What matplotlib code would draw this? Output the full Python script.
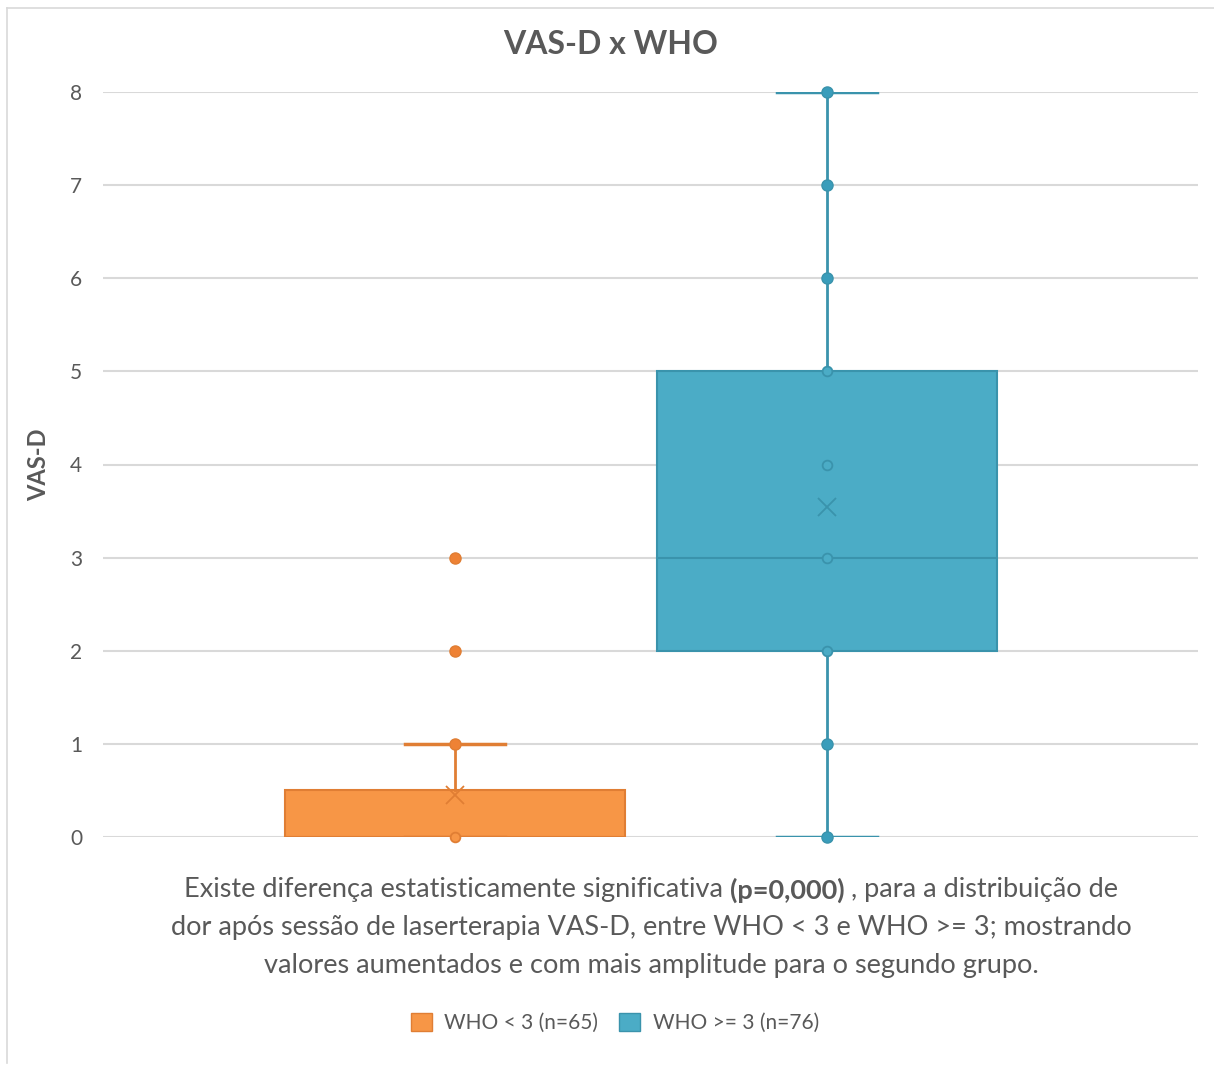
import matplotlib.pyplot as plt
from matplotlib.patches import Rectangle
from matplotlib.lines import Line2D

plt.rcParams['font.family'] = ['Lato', 'DejaVu Sans']

# data
labels = ['WHO < 3 (n=65)', 'WHO >= 3 (n=76)']
q1 = [0, 2]
q3 = [0.5, 5]
medians = [0, 3]
means = [0.45, 3.54]
whis_lo = [0, 0]
whis_hi = [1, 8]
points = [[0, 1, 2, 3], [0, 1, 2, 3, 4, 5, 6, 7, 8]]

fills = ['#F79646', '#4BACC6']
edges = ['#E07E34', '#3A93AC']
dots = ['#EE8235', '#3A9DBB']
gray = '#595959'

W, H = 1214, 1065
fig = plt.figure(figsize=(W / 100, H / 100), dpi=100)
ax = fig.add_axes([103 / W, 1 - 837 / H, 1095 / W, 745 / H])

positions = [1, 2]
for i in range(2):
  st = {'label': labels[i], 'q1': q1[i], 'q3': q3[i], 'med': medians[i],
        'mean': means[i], 'whislo': whis_lo[i], 'whishi': whis_hi[i], 'fliers': []}
  ax.bxp([st], positions=[positions[i]], widths=0.912, patch_artist=True,
         showmeans=True, showfliers=False,
         boxprops=dict(facecolor=fills[i], edgecolor=edges[i], linewidth=1.5),
         medianprops=dict(color=edges[i], linewidth=1.5),
         whiskerprops=dict(color=edges[i], linewidth=2),
         capprops=dict(color=edges[i], linewidth=2.5),
         capwidths=0.27,
         meanprops=dict(marker='x', markersize=13, markeredgecolor=edges[i],
                        markeredgewidth=1.3),
         zorder=3)
  for v in points[i]:
    if q1[i] <= v <= q3[i]:
      ax.plot(positions[i], v, 'o', ms=7, mfc=fills[i], mec=edges[i], mew=1.3,
              zorder=5, clip_on=False)
    else:
      ax.plot(positions[i], v, 'o', ms=8, mfc=dots[i], mec=edges[i], mew=1,
              zorder=5, clip_on=False)

ax.set_xlim(0.054, 2.997)
ax.set_ylim(0, 8)
ax.set_yticks(range(0, 9))
ax.set_xticks([])
ax.grid(axis='y', color='#D9D9D9', linewidth=1.5, zorder=0)
ax.set_axisbelow(True)
for s in ax.spines.values():
  s.set_visible(False)
ax.tick_params(axis='y', length=0, labelsize=15, labelcolor=gray, pad=15)
ax.set_ylabel('VAS-D', fontsize=17, fontweight='bold', color=gray, labelpad=14)

fig.text(611 / W, 1 - 45 / H, 'VAS-D x WHO', ha='center', va='center',
         fontsize=23, fontweight='bold', color=gray)

# caption, first line has a bold part
cap_size = 19.5
renderer = fig.canvas.get_renderer()
parts = [('Existe diferença estatisticamente significativa ', 'normal'),
         ('(p=0,000)', 'bold'),
         (' , para a distribuição de', 'normal')]
txts = [fig.text(0, 1 - 890 / H, p, fontsize=cap_size, fontweight=w, color=gray,
                 ha='left', va='center') for p, w in parts]
widths = [t.get_window_extent(renderer).width for t in txts]
x = 651 - sum(widths) / 2
for t, w in zip(txts, widths):
  t.set_x(x / W)
  x += w
fig.text(651 / W, 1 - 927 / H,
         'dor após sessão de laserterapia VAS-D, entre WHO < 3 e WHO >= 3; mostrando',
         fontsize=cap_size, color=gray, ha='center', va='center')
fig.text(651 / W, 1 - 965 / H,
         'valores aumentados e com mais amplitude para o segundo grupo.',
         fontsize=cap_size, color=gray, ha='center', va='center')

handles = [Rectangle((0, 0), 1, 1, facecolor=fills[i], edgecolor=edges[i]) for i in range(2)]
fig.legend(handles, labels, loc='center', bbox_to_anchor=(615 / W, 1 - 1023 / H),
           ncol=2, frameon=False, fontsize=15, labelcolor=gray, handlelength=1.0,
           handleheight=1.0, columnspacing=1.0, handletextpad=0.6)

# chart border
fig.add_artist(Line2D([7 / W, 7 / W], [1 - 8 / H, 1 - 1063 / H], color='#D9D9D9', lw=1.2))
fig.add_artist(Line2D([7 / W, 1], [1 - 8 / H, 1 - 8 / H], color='#D9D9D9', lw=1.2))

fig.savefig('out.png', dpi=100)
